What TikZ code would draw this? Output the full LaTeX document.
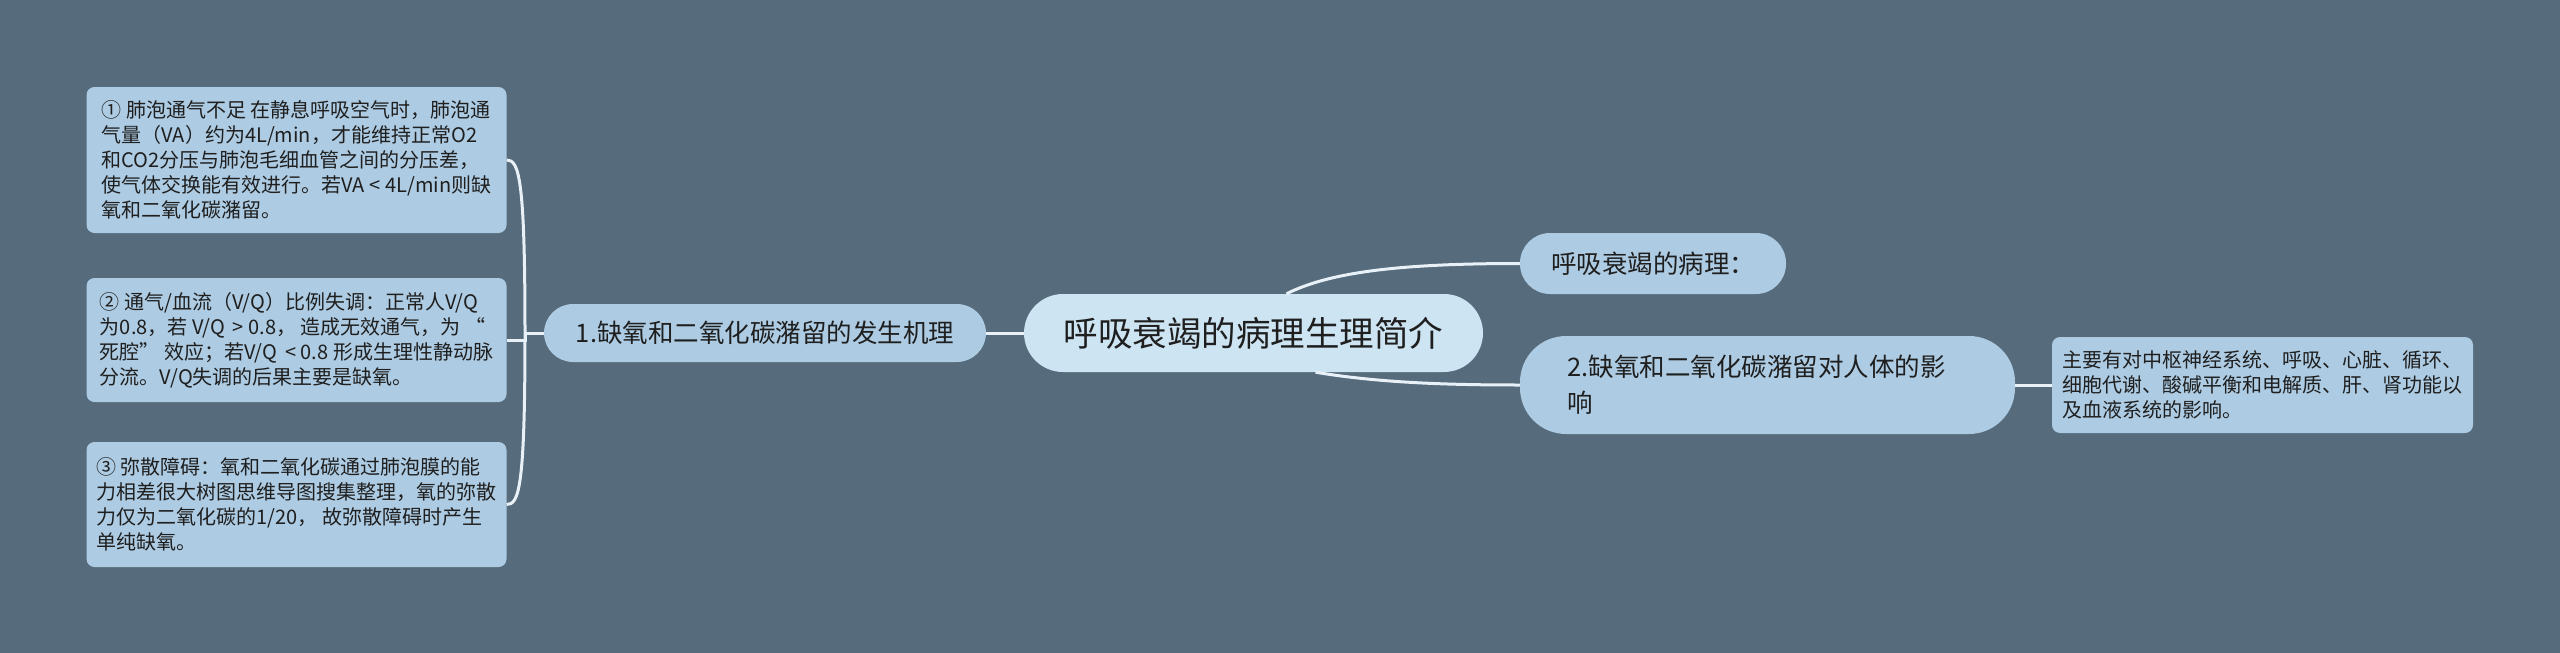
\documentclass[tikz,border=0pt]{standalone}
\usepackage{fontspec}
\setmainfont{Noto Sans CJK SC}
\definecolor{bgc}{HTML}{566B7B}
\definecolor{boxc}{HTML}{ADCBE2}
\definecolor{cenc}{HTML}{CDE4F2}
\definecolor{linec}{HTML}{E8F1F8}
\definecolor{txtc}{HTML}{1F1F1F}
\tikzset{
  base/.style={fill=boxc, text=txtc, inner sep=0pt, draw=none},
  leafbox/.style={base, rounded corners=8pt, align=left,
    font=\fontsize{20pt}{25pt}\selectfont},
  pill/.style={base, align=center, font=\fontsize{25.5pt}{36pt}\selectfont},
  centre/.style={base, fill=cenc, rounded corners=39pt, minimum width=459pt,
    minimum height=78pt, font=\fontsize{34.5pt}{40pt}\selectfont},
  link/.style={draw=linec, line width=3pt}
}
\begin{document}
\begin{tikzpicture}[x=1pt,y=-1pt]
\fill[bgc] (0,0) rectangle (2560,653);
\useasboundingbox (0,0) rectangle (2560,653);

\node[centre] (c) at (1253.5,333) {呼吸衰竭的病理生理简介};
\node[pill, rounded corners=29pt, minimum width=442pt, minimum height=58pt] (n1) at (765,333) {1.缺氧和二氧化碳潴留的发生机理};
\node[pill, rounded corners=30pt, minimum width=266pt, minimum height=61pt] (np) at (1653,263.5) {呼吸衰竭的病理：};
\node[pill, rounded corners=46pt, minimum width=495pt, minimum height=98pt, text width=400pt, align=left] (n2) at (1767.5,385) {2.缺氧和二氧化碳潴留对人体的影\\响};

\node[leafbox, minimum width=420pt, minimum height=146pt] (b1) at (296.5,160) {① 肺泡通气不足 在静息呼吸空气时，肺泡通\\气量（VA）约为4L/min，才能维持正常O2\\和CO2分压与肺泡毛细血管之间的分压差，\\使气体交换能有效进行。若VA < 4L/min则缺\\氧和二氧化碳潴留。};
\node[leafbox, minimum width=420pt, minimum height=124pt] (b2) at (296.5,340) {② 通气/血流（V/Q）比例失调：正常人V/Q\\为0.8，若 V/Q \,> 0.8， 造成无效通气，为 “\\死腔” 效应；若V/Q \,< 0.8 形成生理性静动脉\\分流。V/Q失调的后果主要是缺氧。};
\node[leafbox, minimum width=420pt, minimum height=125pt] (b3) at (296.5,504.5) {③ 弥散障碍：氧和二氧化碳通过肺泡膜的能\\力相差很大树图思维导图搜集整理，氧的弥散\\力仅为二氧化碳的1/20， 故弥散障碍时产生\\单纯缺氧。};
\node[leafbox, minimum width=421pt, minimum height=96pt] (rb) at (2262.5,385) {主要有对中枢神经系统、呼吸、心脏、循环、\\细胞代谢、酸碱平衡和电解质、肝、肾功能以\\及血液系统的影响。};

\coordinate (trunk) at (525,333);
\draw[link] (c.west) -- (n1.east);
\draw[link] ([xshift=33pt]c.north) .. controls (1330,272) and (1400,263.5) .. (np.west);
\draw[link] ([xshift=62pt]c.south) .. controls (1380,383) and (1450,385) .. (n2.west);
\draw[link] (n2.east) -- (rb.west);
\draw[link] (n1.west) -- (trunk);
\draw[link] (trunk) .. controls (525,178) and (519,160) .. (b1.east);
\draw[link] (trunk) |- (b2.east);
\draw[link] (trunk) .. controls (525,488) and (519,504.5) .. (b3.east);
\end{tikzpicture}
\end{document}
